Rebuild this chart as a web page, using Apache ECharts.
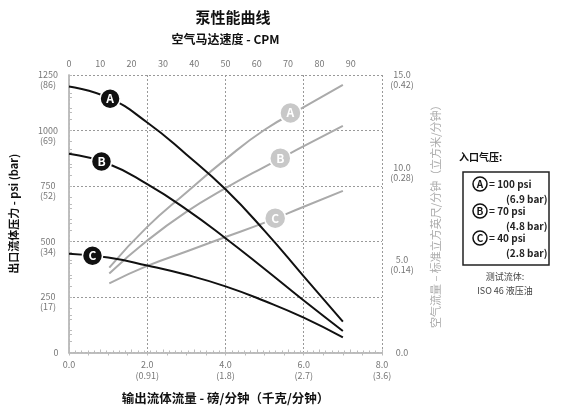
<!DOCTYPE html>
<html>
<head>
<meta charset="utf-8">
<script src="https://cdn.jsdelivr.net/npm/echarts@6/dist/echarts.min.js"></script>
<style>
html,body{margin:0;padding:0;background:#fff;}
#c{width:568px;height:410px;}
</style>
</head>
<body>
<div id="c"></div>
<script>
// ---- data ----
const curveLetters = ['A', 'B', 'C'];
// outlet fluid pressure (psi) vs flow (lb/min)
const pressureA = [[0, 1198], [1, 1148], [2, 1036], [3, 892], [4, 735], [5, 548], [6, 343], [7, 139]];
const pressureB = [[0, 895], [1, 850], [2, 758], [3, 645], [4, 515], [5, 376], [6, 234], [7, 97]];
const pressureC = [[0, 445], [1, 428], [2, 392], [3, 350], [4, 298], [5, 232], [6, 157], [7, 68]];
// air consumption (scfm) vs flow (lb/min)
const airA = [[1.03, 4.59], [2, 6.79], [3, 8.65], [4, 10.44], [5, 12.04], [6, 13.26], [7, 14.47]];
const airB = [[1.03, 4.27], [2, 6.05], [3, 7.6], [4, 8.88], [5, 10.04], [6, 11.15], [7, 12.25]];
const airC = [[1.03, 3.74], [2, 4.68], [3, 5.46], [4, 6.24], [5, 7.02], [6, 7.88], [7, 8.74]];
// curve label positions
const pressureLabelPos = [[1.05, 1143], [0.83, 860], [0.6, 436]];
const airLabelPos = [[5.66, 12.95], [5.4, 10.5], [5.27, 7.26]];
// tick labels
const flowTicks = [0, 2, 4, 6, 8];
const flowKg = ['', '(0.91)', '(1.8)', '(2.7)', '(3.6)'];
const psiTicks = [0, 250, 500, 750, 1000, 1250];
const psiBar = ['', '(17)', '(34)', '(52)', '(69)', '(86)'];
const airTicks = [0, 5, 10, 15];
const airM3 = ['', '(0.14)', '(0.28)', '(0.42)'];
// legend
const legendPsi = ['= 100 psi', '= 70 psi', '= 40 psi'];
const legendBar = ['(6.9 bar)', '(4.8 bar)', '(2.8 bar)'];

const FONT = '"Noto Sans CJK SC", "Liberation Sans", Arial, sans-serif';
const LBL = '#777';
const AX = '#bbb';

const chart = echarts.init(document.getElementById('c'), null, {renderer: 'canvas'});

function pressureSeries(data) {
  return {type: 'line', xAxisIndex: 0, yAxisIndex: 0, data: data, smooth: 0.5, showSymbol: false,
    lineStyle: {color: '#111', width: 2}, silent: true, z: 3};
}
function airSeries(data) {
  return {type: 'line', xAxisIndex: 0, yAxisIndex: 1, data: data, smooth: 0.5, showSymbol: false,
    lineStyle: {color: '#aaa', width: 2}, silent: true, z: 2};
}

const legendGraphics = [
  {type: 'text', left: 459, top: 152, style: {text: '入口气压:', font: 'bold 10px ' + FONT, fill: '#111'}},
  {type: 'rect', shape: {x: 463, y: 172, width: 86, height: 93}, style: {fill: '#fff', stroke: '#222', lineWidth: 1.5}}
];
curveLetters.forEach(function (L, i) {
  const cy = 184 + 27 * i;
  legendGraphics.push({type: 'circle', shape: {cx: 480, cy: cy, r: 7}, style: {fill: '#fff', stroke: '#111', lineWidth: 1.5}});
  legendGraphics.push({type: 'text', x: 480, y: cy, style: {text: L, font: 'bold 10px ' + FONT, fill: '#111', align: 'center', verticalAlign: 'middle'}});
  legendGraphics.push({type: 'text', x: 489, y: cy, style: {text: legendPsi[i], font: 'bold 10px ' + FONT, fill: '#222', verticalAlign: 'middle'}});
  legendGraphics.push({type: 'text', x: 506, y: cy + 15, style: {text: legendBar[i], font: 'bold 10px ' + FONT, fill: '#222', verticalAlign: 'middle'}});
});
legendGraphics.push({type: 'text', x: 505, y: 277, style: {text: '测试流体:', font: '9px ' + FONT, fill: '#444', align: 'center', verticalAlign: 'middle'}});
legendGraphics.push({type: 'text', x: 505, y: 291, style: {text: 'ISO 46 液压油', font: '9px ' + FONT, fill: '#444', align: 'center', verticalAlign: 'middle'}});

const option = {
  backgroundColor: '#fff',
  animation: false,
  textStyle: {fontFamily: FONT},
  title: {
    text: '泵性能曲线', left: 228, top: 5, textAlign: 'center',
    textStyle: {fontFamily: FONT, fontSize: 15, fontWeight: 'bold', color: '#111'}
  },
  grid: {left: 68, right: 186, top: 75, bottom: 53},
  xAxis: [
    {
      type: 'value', position: 'bottom', min: 0, max: 8, interval: 2,
      name: '输出流体流量 - 磅/分钟（千克/分钟）', nameLocation: 'middle', nameGap: 40,
      nameTextStyle: {fontFamily: FONT, fontSize: 12.5, fontWeight: 'bold', color: '#111'},
      axisLine: {show: true, lineStyle: {color: AX, width: 1.5}},
      axisTick: {show: true, length: 3, lineStyle: {color: AX}},
      minorTick: {show: true, splitNumber: 4, length: 3, lineStyle: {color: AX}},
      axisLabel: {
        color: LBL, fontSize: 9, margin: 7, lineHeight: 11, fontFamily: FONT,
        formatter: function (v) { const i = flowTicks.indexOf(v); const s = v.toFixed(1); return flowKg[i] ? s + '\n' + flowKg[i] : s; }
      },
      splitLine: {show: true, lineStyle: {color: '#999', type: [2, 2], width: 1}}
    },
    {
      type: 'value', position: 'top', min: 0, max: 100, interval: 10,
      name: '空气马达速度 - CPM', nameLocation: 'middle', nameGap: 30,
      nameTextStyle: {fontFamily: FONT, fontSize: 12, fontWeight: 'bold', color: '#111'},
      axisLine: {show: true, lineStyle: {color: AX, width: 1.5}},
      axisTick: {show: true, length: 3, lineStyle: {color: AX}},
      minorTick: {show: true, splitNumber: 5, length: 2, lineStyle: {color: AX}},
      axisLabel: {color: LBL, fontSize: 9, margin: 7, formatter: function (v) { return v >= 100 ? '' : String(v); }},
      splitLine: {show: false}
    }
  ],
  yAxis: [
    {
      type: 'value', position: 'left', min: 0, max: 1250, interval: 250,
      name: '出口流体压力 - psi (bar)', nameLocation: 'middle', nameGap: 50, nameRotate: 90,
      nameTextStyle: {fontFamily: FONT, fontSize: 11, fontWeight: 'bold', color: '#111'},
      axisLine: {show: true, lineStyle: {color: AX, width: 1.5}},
      axisTick: {show: true, inside: true, length: 3, lineStyle: {color: AX}},
      minorTick: {show: true, splitNumber: 5, length: 3, lineStyle: {color: AX}},
      axisLabel: {
        color: LBL, fontSize: 9, margin: 21, lineHeight: 10, align: 'center', fontFamily: FONT,
        formatter: function (v) { const i = psiTicks.indexOf(v); return psiBar[i] ? ' \n' + v + '\n' + psiBar[i] : '{z|' + v + '}'; },
        rich: {z: {fontSize: 9, color: LBL, padding: [0, 0, 0, 16]}}
      },
      splitLine: {show: true, lineStyle: {color: '#999', type: [2, 2], width: 1}}
    },
    {
      type: 'value', position: 'right', min: 0, max: 15, interval: 5,
      name: '空气流量 – 标准立方英尺/分钟（立方米/分钟）', nameLocation: 'middle', nameGap: 48, nameRotate: 90,
      nameTextStyle: {fontFamily: FONT, fontSize: 11, color: '#aaa'},
      axisLine: {show: true, lineStyle: {color: AX, width: 1.5}},
      axisTick: {show: true, length: 3, lineStyle: {color: AX}},
      minorTick: {show: true, splitNumber: 5, length: 3, lineStyle: {color: AX}},
      axisLabel: {
        color: LBL, fontSize: 9, margin: 20, lineHeight: 10, align: 'center', fontFamily: FONT,
        formatter: function (v) { const i = airTicks.indexOf(v); const s = v.toFixed(1); return airM3[i] ? ' \n' + s + '\n' + airM3[i] : s; }
      },
      splitLine: {show: false}
    }
  ],
  series: [
    pressureSeries(pressureA), pressureSeries(pressureB), pressureSeries(pressureC),
    airSeries(airA), airSeries(airB), airSeries(airC),
    {
      type: 'scatter', xAxisIndex: 0, yAxisIndex: 0, symbol: 'circle', symbolSize: 20, z: 10, silent: true,
      data: pressureLabelPos.map(function (p, i) { return {name: curveLetters[i], value: p}; }),
      itemStyle: {color: '#111', borderColor: '#fff', borderWidth: 1.5, opacity: 1},
      label: {show: true, position: 'inside', formatter: '{b}', color: '#fff', fontSize: 12, fontWeight: 'bold', fontFamily: FONT}
    },
    {
      type: 'scatter', xAxisIndex: 0, yAxisIndex: 1, symbol: 'circle', symbolSize: 21, z: 10, silent: true,
      data: airLabelPos.map(function (p, i) { return {name: curveLetters[i], value: p}; }),
      itemStyle: {color: '#c8c8c8', borderColor: '#fff', borderWidth: 1.5, opacity: 1},
      label: {show: true, position: 'inside', formatter: '{b}', color: '#fff', fontSize: 12, fontWeight: 'bold', fontFamily: FONT}
    }
  ],
  graphic: legendGraphics
};
chart.setOption(option);
</script>
</body>
</html>
